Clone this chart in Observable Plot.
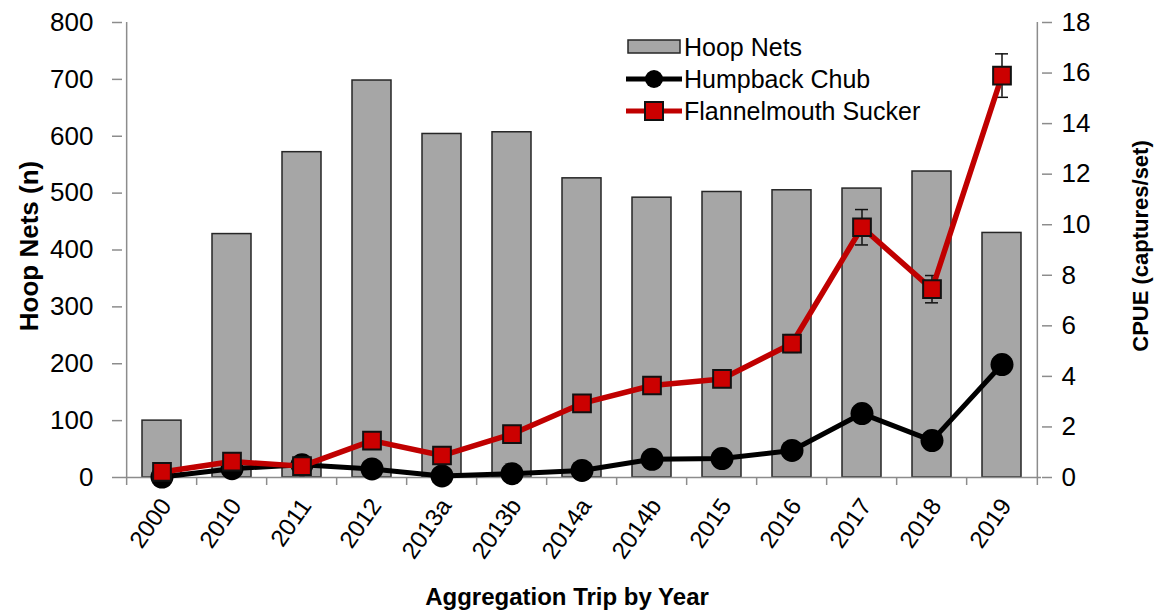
<!DOCTYPE html>
<html>
<head>
<meta charset="utf-8">
<script src="https://cdn.jsdelivr.net/npm/d3@7"></script>
<script src="https://cdn.jsdelivr.net/npm/@observablehq/plot@0.6"></script>
<style>
  html, body { margin: 0; padding: 0; background: #fff; }
  #wrap { position: relative; width: 1159px; height: 615px; font-family: "Liberation Sans", Arial, sans-serif; }
  #legend { position: absolute; left: 626px; top: 31px; font-size: 25px; color: #000; }
  #legend .row { display: flex; align-items: center; height: 32px; }
  #legend svg { display: block; margin-right: 2px; }
</style>
</head>
<body>
<div id="wrap"><div id="legend"></div></div>
<script>
const categories = ["2000","2010","2011","2012","2013a","2013b","2014a","2014b","2015","2016","2017","2018","2019"];
const hoopNets = [100, 428, 572, 698, 604, 607, 526, 492, 502, 505, 508, 538, 430];
const humpbackChub = [0.02, 0.35, 0.5, 0.34, 0.06, 0.15, 0.28, 0.72, 0.75, 1.07, 2.53, 1.46, 4.47];
const flannelmouth = [0.22, 0.63, 0.45, 1.46, 0.87, 1.72, 2.93, 3.64, 3.9, 5.3, 9.9, 7.45, 15.9];
const flannelmouthSE = [0.05, 0.1, 0.08, 0.2, 0.12, 0.2, 0.25, 0.3, 0.3, 0.35, 0.7, 0.54, 0.86];
const leftTicks = [0, 100, 200, 300, 400, 500, 600, 700, 800];
const rightTicks = [0, 2, 4, 6, 8, 10, 12, 14, 16, 18];
const legendLabels = ["Hoop Nets", "Humpback Chub", "Flannelmouth Sucker"];
const xTitle = "Aggregation Trip by Year";
const yLeftTitle = "Hoop Nets (n)";
const yRightTitle = "CPUE (captures/set)";

const W = 1159, H = 615, mL = 122, mR = 118, mT = 22, mB = 138;
const k = 800 / 18; // right-axis to left-axis scale factor
const step = (W - mL - mR) / categories.length;
const gray = "#8c8c8c";
const red = "#c00000";
const font = "'Liberation Sans', Arial, sans-serif";

const rows = categories.map((c, i) => ({
  cat: c, nets: hoopNets[i], chub: humpbackChub[i], fs: flannelmouth[i], se: flannelmouthSE[i]
}));

const chart = Plot.plot({
  width: W, height: H, marginTop: mT, marginBottom: mB, marginLeft: mL, marginRight: mR,
  style: { fontFamily: font, fontSize: "26px", color: "#000", background: "transparent", overflow: "visible" },
  x: { domain: categories, paddingInner: 0.45, paddingOuter: 0.225, axis: null },
  y: { domain: [0, 800], axis: null },
  marks: [
    Plot.barY(rows, { x: "cat", y: "nets", fill: "#a6a6a6", stroke: "#262626", strokeWidth: 1.5 }),
    Plot.ruleY([0], { stroke: gray, strokeWidth: 1.5 }),
    Plot.ruleX([categories[0]], { y1: 0, y2: 800, dx: -step / 2, stroke: gray, strokeWidth: 1.5 }),
    Plot.ruleX([categories[categories.length - 1]], { y1: 0, y2: 800, dx: step / 2, stroke: gray, strokeWidth: 1.5 }),
    Plot.axisX({ ticks: categories, tickSize: 8, tickFormat: () => "", dx: -step / 2, stroke: gray, strokeWidth: 1.5, label: null }),
    Plot.axisX({ ticks: [categories[categories.length - 1]], tickSize: 8, tickFormat: () => "", dx: step / 2, stroke: gray, strokeWidth: 1.5, label: null }),
    Plot.axisX({ ticks: categories, tickSize: 0, tickPadding: 24, tickRotate: -55, dx: 4, fontSize: 24, label: null }),
    Plot.axisY({ anchor: "left", ticks: leftTicks, tickSize: 10, tickPadding: 19, stroke: gray, strokeWidth: 1.5, fontSize: 26, label: null }),
    Plot.axisY({ anchor: "right", ticks: rightTicks.map(v => v * k), tickFormat: d => String(Math.round(d / k)), tickSize: 10, tickPadding: 10, stroke: gray, strokeWidth: 1.5, fontSize: 26, label: null }),
    Plot.line(rows, { x: "cat", y: d => d.chub * k, stroke: "black", strokeWidth: 5 }),
    Plot.dot(rows, { x: "cat", y: d => d.chub * k, r: 11.5, fill: "black", stroke: "none" }),
    Plot.ruleX(rows, { x: "cat", y1: d => (d.fs - d.se) * k, y2: d => (d.fs + d.se) * k, stroke: "#111", strokeWidth: 1.5 }),
    Plot.tickY(rows, { x: "cat", y: d => (d.fs - d.se) * k, stroke: "#111", strokeWidth: 1.5, insetLeft: 13, insetRight: 13 }),
    Plot.tickY(rows, { x: "cat", y: d => (d.fs + d.se) * k, stroke: "#111", strokeWidth: 1.5, insetLeft: 13, insetRight: 13 }),
    Plot.line(rows, { x: "cat", y: d => d.fs * k, stroke: red, strokeWidth: 5.5 }),
    Plot.dot(rows, { x: "cat", y: d => d.fs * k, symbol: "square", r: 10, fill: "#cc0000", stroke: "#111", strokeWidth: 2 }),
    Plot.text([xTitle], { frameAnchor: "bottom", textAnchor: "middle", lineAnchor: "middle", dy: 120, dx: -15, fontSize: 24, fontWeight: "bold", fill: "black" }),
    Plot.text([yLeftTitle], { frameAnchor: "left", textAnchor: "middle", lineAnchor: "middle", rotate: -90, dx: -93, dy: -4, fontSize: 26, fontWeight: "bold", fill: "black" }),
    Plot.text([yRightTitle], { frameAnchor: "right", textAnchor: "middle", lineAnchor: "middle", rotate: -90, dx: 99, dy: -4, fontSize: 22, fontWeight: "bold", fill: "black" })
  ]
});
const wrap = document.getElementById("wrap");
wrap.insertBefore(chart, wrap.firstChild);

// Legend
const legend = document.getElementById("legend");
const sym = [
  `<rect x="2" y="4" width="52" height="13" fill="#a6a6a6" stroke="#262626" stroke-width="1.5"/>`,
  `<line x1="0" y1="11" x2="56" y2="11" stroke="black" stroke-width="5"/><circle cx="28" cy="11" r="9" fill="black"/>`,
  `<line x1="0" y1="11" x2="56" y2="11" stroke="${red}" stroke-width="5"/><rect x="19" y="2" width="18" height="18" fill="#cc0000" stroke="#111" stroke-width="2"/>`
];
legendLabels.forEach((lab, i) => {
  const row = document.createElement("div");
  row.className = "row";
  row.innerHTML = `<svg width="56" height="22">${sym[i]}</svg><span>${lab}</span>`;
  legend.appendChild(row);
});
</script>
</body>
</html>
